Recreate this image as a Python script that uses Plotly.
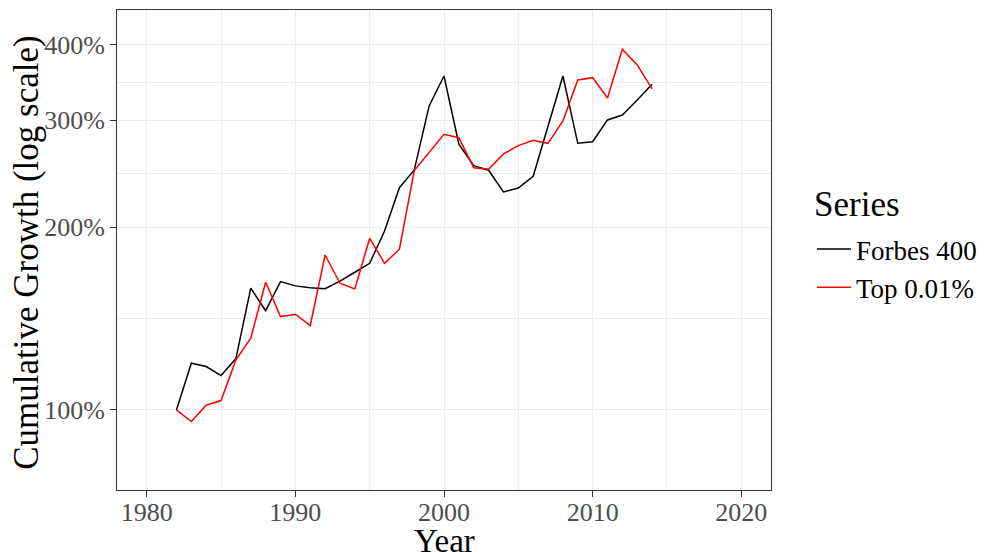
import plotly.graph_objects as go

years = list(range(1982, 2015))
forbes_400 = [100, 119.4, 117.9, 113.9, 121.5, 158.7, 145.7, 162.7, 160.1, 159.0,
              158.4, 163.0, 168.6, 174.4, 197.2, 232.4, 248.5, 316.9, 355.0, 274.0,
              252.6, 248.3, 228.7, 232.1, 242.7, 293.0, 355.0, 275.0, 276.7, 300.5,
              306.2, 324.0, 344.0]
top_001 = [100, 95.7, 101.8, 103.6, 120.9, 131.3, 162.3, 142.5, 143.8, 137.7,
           180.0, 161.7, 158.2, 191.8, 174.4, 184.0, 247.9, 265.8, 284.6, 280.9,
           250.7, 249.2, 264.1, 272.6, 278.2, 275.0, 299.3, 349.7, 352.8, 326.6,
           392.9, 370.2, 338.0]

x_ticks = [1980, 1990, 2000, 2010, 2020]
x_minor = [1985, 1995, 2005, 2015]
y_ticks = [100, 200, 300, 400]
y_tick_labels = ["100%", "200%", "300%", "400%"]
y_minor = [141.4, 244.9, 346.4]

FONT = "Liberation Serif"

fig = go.Figure()
fig.add_trace(go.Scatter(x=years, y=forbes_400, mode="lines", name="Forbes 400",
                         line=dict(color="black", width=1.5)))
fig.add_trace(go.Scatter(x=years, y=top_001, mode="lines", name="Top 0.01%",
                         line=dict(color="red", width=1.5)))

# page body has an 8px margin: figure size/margins compensate for it
fig.update_layout(
    width=993, height=544,
    margin=dict(l=109, r=230, t=2, b=62, autoexpand=False),
    paper_bgcolor="white", plot_bgcolor="white",
    font=dict(family=FONT, color="black"),
    legend=dict(
        font=dict(size=27, family=FONT, color="black"),
        x=1.0627, xanchor="left", y=0.552, yanchor="top",
        bgcolor="rgba(0,0,0,0)", tracegroupgap=0, itemwidth=34,
    ),
    annotations=[
        dict(text="Cumulative Growth (log scale)", xref="paper", yref="paper",
             x=-0.1385, y=0.495, xanchor="center", yanchor="middle", textangle=-90,
             showarrow=False, font=dict(size=35, family=FONT, color="black")),
        dict(text="Year", xref="paper", yref="paper",
             x=0.5, y=-0.106, xanchor="center", yanchor="middle",
             showarrow=False, font=dict(size=33, family=FONT, color="black")),
        dict(text="Series", xref="paper", yref="paper",
             x=1.0627, y=(482 - 196) / 480, xanchor="left", yanchor="middle",
             showarrow=False, font=dict(size=35, family=FONT, color="black")),
    ],
)

fig.update_xaxes(
    range=[1978, 2022], automargin=False,
    tickvals=x_ticks,
    tickfont=dict(size=26, family=FONT, color="#4D4D4D"),
    ticks="outside", ticklen=6, tickcolor="#333333", tickwidth=1,
    ticklabelstandoff=-7,
    showgrid=True, gridcolor="#EBEBEB", gridwidth=1.2,
    minor=dict(tickvals=x_minor, showgrid=True, gridcolor="#EBEBEB", gridwidth=0.7, ticks=""),
    showline=True, linecolor="#333333", linewidth=1, mirror=True,
    zeroline=False,
)
fig.update_yaxes(
    type="log", automargin=False,
    range=[1.868, 2.659],
    tickvals=y_ticks, ticktext=y_tick_labels,
    tickfont=dict(size=26, family=FONT, color="#4D4D4D"),
    ticks="outside", ticklen=6, tickcolor="#333333", tickwidth=1,
    showgrid=True, gridcolor="#EBEBEB", gridwidth=1.2,
    minor=dict(tickvals=y_minor, showgrid=True, gridcolor="#EBEBEB", gridwidth=0.7, ticks=""),
    showline=True, linecolor="#333333", linewidth=1, mirror=True,
    zeroline=False,
)

fig.write_html("out.html")
